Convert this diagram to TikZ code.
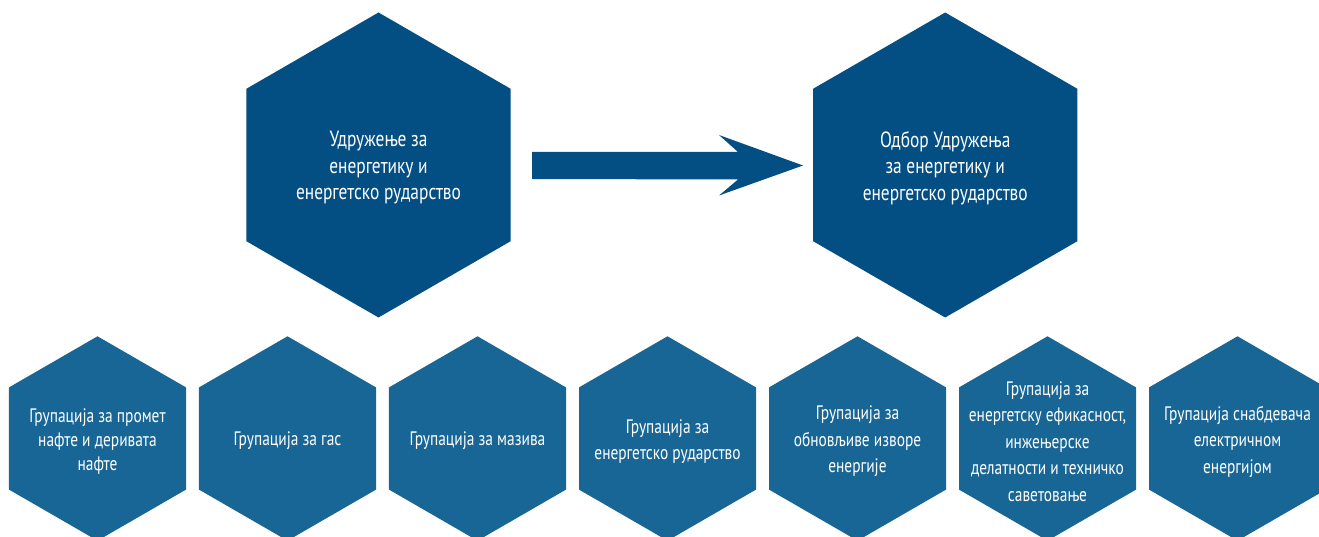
\documentclass[tikz,border=0pt]{standalone}
\usepackage{fontspec}
\newfontfamily\hexfont{PT Sans}[FakeStretch=0.79]
\usetikzlibrary{shapes.geometric}
\definecolor{bigblue}{RGB}{3,79,132}
\definecolor{smallblue}{RGB}{24,102,150}
\begin{document}
\begin{tikzpicture}[x=1pt,y=-1pt,
  hexbase/.style={regular polygon, regular polygon sides=6, shape border rotate=30,
    inner sep=0pt, outer sep=0pt, draw=none},
  bighex/.style={hexbase, minimum size=305pt, fill=bigblue},
  smallhex/.style={hexbase, minimum size=204.4pt, fill=smallblue},
  bigtxt/.style={text=white, align=center, inner sep=0pt,
    font=\hexfont\fontsize{22}{26.5}\selectfont},
  smalltxt/.style={text=white, align=center, inner sep=0pt,
    font=\hexfont\fontsize{19.5}{26.5}\selectfont},
  blockarrow/.style={fill=bigblue, draw=none}]
\useasboundingbox (0,0) rectangle (1319,537);
\clip (0,0) rectangle (1319,537);

% large hexagons
\node[bighex] (assoc) at (378.5,165) {};
\node[bighex] (board) at (945.2,165) {};
\node[bigtxt] (assoct) at ([yshift=-3pt]assoc.center) {Удружење за\\енергетику и\\енергетско рударство};
\node[bigtxt] (boardt) at ([yshift=-3pt]board.center) {Одбор Удружења\\за енергетику и\\енергетско рударство};

% block arrow
\coordinate (ah) at (532,165.5);
\fill[blockarrow] ([shift={(0,-13.5)}]ah) -- ++(206,0) -- ++(-19,-17)
  -- ([shift={(271,0)}]ah) -- ++(-84,30) -- ++(19,-16)
  -- ([shift={(0,13.5)}]ah) -- cycle;

% small hexagons
\foreach \i/\x in {1/97.5,2/287.5,3/477.5,4/667.5,5/857.5,6/1047.5,7/1237.5}{
  \node[smallhex] (g\i) at (\x,438.5) {};
}
\node[smalltxt, font=\hexfont\fontsize{19.5}{24}\selectfont] (g1t) at ([yshift=-3pt]g1.center) {Групација за промет\\нафте и деривата\\нафте};
\node[smalltxt] (g2t) at ([yshift=-2pt]g2.center) {Групација за гас};
\node[smalltxt] (g3t) at ([yshift=-2pt]g3.center) {Групација за мазива};
\node[smalltxt] (g4t) at ([yshift=-3pt]g4.center) {Групација за\\енергетско рударство};
\node[smalltxt] (g5t) at ([yshift=-3pt]g5.center) {Групација за\\обновљиве изворе\\енергије};
\node[smalltxt] (g6t) at ([yshift=-3pt]g6.center) {Групација за\\енергетску ефикасност,\\инжењерске\\делатности и техничко\\саветовање};
\node[smalltxt] (g7t) at ([yshift=-3pt]g7.center) {Групација снабдевача\\електричном\\енергијом};
\end{tikzpicture}
\end{document}
